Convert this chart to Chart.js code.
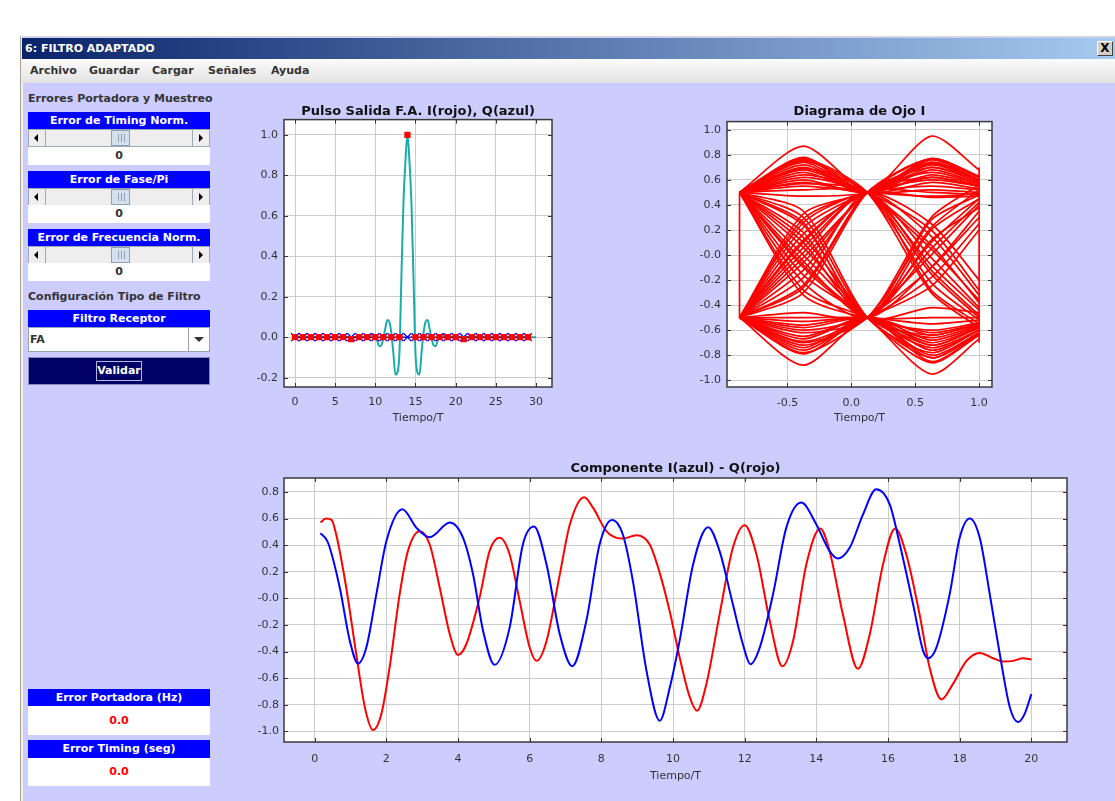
<!DOCTYPE html>
<html>
<head>
<meta charset="utf-8">
<script src="https://cdn.jsdelivr.net/npm/chart.js@4.4.1/dist/chart.umd.min.js"></script>
<style>
body{margin:0;background:#fff;width:1115px;height:801px;overflow:hidden;position:relative;font-family:"DejaVu Sans",sans-serif}
.a{position:absolute}
#win{left:20px;top:36px;width:1095px;height:765px;background:#ccccff;border-left:1px solid #a8a49c;border-top:1px solid #d8d6d0;box-sizing:border-box}
#edge{left:21px;top:37px;width:2px;height:764px;background:#f0eee8}
#bar{left:22px;top:38px;width:1093px;height:21px;background:linear-gradient(to right,#0a246a,#a6caf0)}
#bar span{position:absolute;left:3px;top:0;font:bold 11px "DejaVu Sans";line-height:21px;color:#fff}
#close{left:1097px;top:41px;width:14px;height:13px;background:#d4d0c8;border:1px solid;border-color:#fff #404040 #404040 #fff;font:bold 12px "DejaVu Sans";text-align:center;line-height:13px;color:#000}
#menu{left:22px;top:59px;width:1093px;height:24px;background:linear-gradient(#fbfbfb,#e3e3e3)}
.m{position:absolute;top:0;font:bold 11px "DejaVu Sans";line-height:24px;color:#333}
.lbl{left:28px;font:bold 11px "DejaVu Sans";color:#333;line-height:16px}
.hdr{left:28px;width:182px;height:17px;background:#0000ff;color:#fff;font:bold 11px "DejaVu Sans";text-align:center;line-height:17px}
.sb{left:28px;width:182px;height:18px;background:#eeeeee;border:1px solid #a0a8b2;box-sizing:border-box}
.sb .bl,.sb .br{position:absolute;top:0;width:16px;height:16px;background:#eeeeee}
.sb .bl{left:0;border-right:1px solid #a0a8b2}
.sb .br{right:0;border-left:1px solid #a0a8b2}
.sb .bl i,.sb .br i{position:absolute;top:4px;width:0;height:0;border-top:4px solid transparent;border-bottom:4px solid transparent}
.sb .bl i{left:5px;border-right:4px solid #000}
.sb .br i{left:6px;border-left:4px solid #000}
.sb .th{position:absolute;left:82px;top:0;width:17px;height:14px;background:#d6e0ec;border:1px solid #8ea0b8}
.sb .th b{position:absolute;left:6px;top:3px;width:5px;height:8px;border-left:1px solid #8ea0b8;border-right:1px solid #8ea0b8}
.sb .th b:after{content:"";position:absolute;left:2px;top:0;width:1px;height:8px;background:#8ea0b8}
.v{left:28px;width:182px;background:#fff;text-align:center;font:bold 11px "DejaVu Sans";color:#333}
#combo{left:28px;top:327px;width:182px;height:25px;background:#fff;border:1px solid #9aa3ad;box-sizing:border-box}
#combo span{position:absolute;left:1px;top:0;font:bold 11px "DejaVu Sans";line-height:23px;color:#333}
#combo .btn{position:absolute;right:0;top:0;width:20px;height:23px;border-left:1px solid #9aa3ad;background:#fff}
#combo .btn i{position:absolute;left:5px;top:9px;width:0;height:0;border-left:5px solid transparent;border-right:5px solid transparent;border-top:5px solid #333}
#validar{left:28px;top:357px;width:182px;height:28px;background:#000066;border:1px solid #8a8ab8;box-sizing:border-box}
#validar span{position:absolute;left:67px;top:3px;width:44px;height:18px;border:1px solid #b8b8d8;font:bold 11px "DejaVu Sans";color:#fff;text-align:center;line-height:18px}
.red{color:#ff0000}
canvas{position:absolute}
</style>
</head>
<body>
<div id="win" class="a"></div>
<div id="edge" class="a"></div>
<div id="bar" class="a"><span>6: FILTRO ADAPTADO</span></div>
<div id="close" class="a">X</div>
<div id="menu" class="a">
  <span class="m" style="left:8px">Archivo</span>
  <span class="m" style="left:67px">Guardar</span>
  <span class="m" style="left:130px">Cargar</span>
  <span class="m" style="left:186px">Señales</span>
  <span class="m" style="left:249px">Ayuda</span>
</div>

<div class="a lbl" style="top:91px">Errores Portadora y Muestreo</div>
<div class="a hdr" style="top:112px">Error de Timing Norm.</div>
<div class="a sb" style="top:129px"><div class="bl"><i></i></div><div class="th"><b></b></div><div class="br"><i></i></div></div>
<div class="a v" style="top:147px;height:18px;line-height:18px">0</div>
<div class="a hdr" style="top:171px">Error de Fase/Pi</div>
<div class="a sb" style="top:188px"><div class="bl"><i></i></div><div class="th"><b></b></div><div class="br"><i></i></div></div>
<div class="a v" style="top:205px;height:18px;line-height:18px">0</div>
<div class="a hdr" style="top:229px">Error de Frecuencia Norm.</div>
<div class="a sb" style="top:246px"><div class="bl"><i></i></div><div class="th"><b></b></div><div class="br"><i></i></div></div>
<div class="a v" style="top:263px;height:18px;line-height:18px">0</div>
<div class="a lbl" style="top:289px">Configuración Tipo de Filtro</div>
<div class="a hdr" style="top:310px">Filtro Receptor</div>
<div id="combo" class="a"><span>FA</span><div class="btn"><i></i></div></div>
<div id="validar" class="a"><span>Validar</span></div>

<div class="a hdr" style="top:689px">Error Portadora (Hz)</div>
<div class="a v red" style="top:706px;height:29px;line-height:29px">0.0</div>
<div class="a hdr" style="top:740px;height:18px;line-height:18px">Error Timing (seg)</div>
<div class="a v red" style="top:758px;height:28px;line-height:28px">0.0</div>

<canvas id="pulse" width="322" height="330" style="left:240px;top:98px"></canvas>
<canvas id="eye" width="322" height="330" style="left:680px;top:98px"></canvas>
<canvas id="comp" width="837" height="330" style="left:240px;top:455px"></canvas>

<script>
// ---- Pulso salida F.A. ----
const pulseTime = [0, 9, 9.25, 9.5, 9.75, 10, 10.25, 10.5, 10.75, 11, 11.25, 11.5, 11.75, 12, 12.25, 12.5, 12.75, 13, 13.25, 13.5, 13.75,
  14, 14.25, 14.5, 14.75, 15, 15.25, 15.5, 15.75, 16, 16.25, 16.5, 16.75, 17, 17.25, 17.5, 17.75, 18, 18.25, 18.5, 18.75, 19, 30];
const pulseValue = [0, 0, 0, 0.012, 0.015, 0.005, -0.02, -0.045, -0.04, -0.005, 0.045, 0.085, 0.075, 0.02, -0.08, -0.185, -0.175, -0.08, 0.3, 0.66, 0.87,
  1.0, 0.87, 0.66, 0.3, -0.08, -0.175, -0.185, -0.08, 0.02, 0.075, 0.085, 0.045, -0.005, -0.04, -0.045, -0.02, 0.005, 0.015, 0.012, 0, 0, 0];
const sampleTime = [0, 1, 2, 3, 4, 5, 6, 7, 8, 9, 10, 11, 12, 13, 14, 15, 16, 17, 18, 19, 20, 21, 22, 23, 24, 25, 26, 27, 28, 29];
const sampleI = [0, 0, 0, 0, 0, 0, 0, -0.01, 0, 0, 0, 0, 0, 0, 1.0, 0, 0, 0, 0, 0, 0, -0.01, 0, 0, 0, 0, 0, 0, 0, 0];
const sampleQ = [0, 0, 0, 0, 0, 0, 0, 0, 0, 0, 0, 0, 0, 0, 0, 0, 0, 0, 0, 0, 0, 0, 0, 0, 0, 0, 0, 0, 0, 0];
const pulseXTicks = [0, 5, 10, 15, 20, 25, 30];
const pulseXLabels = ["0", "5", "10", "15", "20", "25", "30"];
const pulseYTicks = [-0.2, 0, 0.2, 0.4, 0.6, 0.8, 1.0];
const pulseYLabels = ["-0.2", "0.0", "0.2", "0.4", "0.6", "0.8", "1.0"];

// ---- Diagrama de ojo I: [y(-0.875), y(-0.375), y(0.125), y(0.625), y(1.0)] ----
const eyeTime = [-0.875, -0.375, 0.125, 0.625, 1.0];
const eyeTraces = [
  [0.5, 0.87, 0.5, 0.58, 0.53],
  [0.5, 0.77, 0.5, 0.95, 0.68],
  [0.5, 0.75, 0.5, 0.05, -0.36],
  [0.5, 0.72, 0.5, 0.76, 0.6],
  [0.5, 0.69, 0.5, -0.22, -0.52],
  [0.5, 0.66, 0.5, 0.7, 0.58],
  [0.5, 0.62, 0.5, 0.2, -0.28],
  [0.5, 0.58, 0.5, 0.62, 0.55],
  [0.5, 0.55, 0.5, 0.47, 0.49],
  [0.5, 0.47, 0.5, 0.74, 0.6],
  [0.5, 0.52, 0.5, -0.08, -0.44],
  [0.5, 0.78, 0.5, 0.64, 0.56],
  [0.5, 0.76, 0.5, -0.3, -0.58],
  [0.5, 0.7, 0.5, 0.73, 0.59],
  [0.5, 0.64, 0.5, 0.08, -0.38],
  [0.5, 0.6, 0.5, 0.77, 0.62],
  [0.5, 0.68, 0.5, 0.52, 0.5],
  [0.5, 0.57, 0.5, -0.15, -0.5],
  [0.5, 0.74, 0.5, 0.68, 0.57],
  [0.5, 0.3, -0.5, -0.64, -0.55],
  [0.5, 0.18, -0.5, 0.12, 0.38],
  [0.5, 0.06, -0.5, -0.82, -0.62],
  [0.5, -0.05, -0.5, -0.1, 0.3],
  [0.5, -0.16, -0.5, -0.95, -0.67],
  [0.5, -0.28, -0.5, -0.72, -0.58],
  [0.5, 0.1, -0.5, 0.28, 0.48],
  [0.5, -0.1, -0.5, -0.6, -0.54],
  [0.5, 0.24, -0.5, -0.42, -0.46],
  [0.5, 0.35, -0.5, -0.78, -0.6],
  [0.5, 0.0, -0.5, -0.66, -0.56],
  [0.5, -0.22, -0.5, 0.05, 0.42],
  [0.5, 0.14, -0.5, -0.86, -0.64],
  [0.5, -0.32, -0.5, -0.5, -0.5],
  [0.5, 0.26, -0.5, 0.2, 0.45],
  [0.5, -0.08, -0.5, -0.74, -0.6],
  [-0.5, -0.88, -0.5, -0.68, -0.57],
  [-0.5, -0.78, -0.5, 0.0, 0.4],
  [-0.5, -0.74, -0.5, -0.85, -0.63],
  [-0.5, -0.7, -0.5, 0.22, 0.52],
  [-0.5, -0.65, -0.5, -0.76, -0.6],
  [-0.5, -0.6, -0.5, -0.18, 0.25],
  [-0.5, -0.56, -0.5, -0.8, -0.62],
  [-0.5, -0.5, -0.5, -0.55, -0.52],
  [-0.5, -0.46, -0.5, 0.1, 0.45],
  [-0.5, -0.76, -0.5, -0.64, -0.55],
  [-0.5, -0.79, -0.5, -0.72, -0.58],
  [-0.5, -0.72, -0.5, -0.1, 0.35],
  [-0.5, -0.67, -0.5, -0.82, -0.63],
  [-0.5, -0.62, -0.5, 0.3, 0.56],
  [-0.5, -0.58, -0.5, -0.7, -0.58],
  [-0.5, -0.53, -0.5, -0.62, -0.55],
  [-0.5, -0.69, -0.5, -0.25, 0.2],
  [-0.5, -0.3, 0.5, 0.77, 0.62],
  [-0.5, -0.18, 0.5, -0.28, -0.55],
  [-0.5, -0.06, 0.5, 0.66, 0.57],
  [-0.5, 0.06, 0.5, 0.15, -0.32],
  [-0.5, 0.17, 0.5, 0.72, 0.6],
  [-0.5, 0.29, 0.5, 0.55, 0.52],
  [-0.5, -0.12, 0.5, 0.5, 0.48],
  [-0.5, 0.1, 0.5, -0.02, -0.42],
  [-0.5, 0.22, 0.5, 0.6, 0.55],
  [-0.5, -0.26, 0.5, 0.7, 0.6],
  [-0.5, 0.02, 0.5, -0.12, -0.48],
  [-0.5, 0.33, 0.5, 0.74, 0.6],
  [-0.5, -0.24, 0.5, 0.62, 0.55],
  [-0.5, 0.12, 0.5, 0.25, -0.2],
  [-0.5, -0.02, 0.5, 0.77, 0.63],
  [-0.5, 0.26, 0.5, 0.46, 0.47]
];
const eyeWrapLeft = [0.5, -0.5];
const eyeWrapRight = [0.7, -0.7];
const eyeXTicks = [-0.5, 0, 0.5, 1.0];
const eyeXLabels = ["-0.5", "0.0", "0.5", "1.0"];
const eyeYTicks = [-1.0, -0.8, -0.6, -0.4, -0.2, 0, 0.2, 0.4, 0.6, 0.8, 1.0];
const eyeYLabels = ["-1.0", "-0.8", "-0.6", "-0.4", "-0.2", "-0.0", "0.2", "0.4", "0.6", "0.8", "1.0"];

// ---- Componente I(azul) - Q(rojo) ----
const compTimeI = [0.16, 0.37, 0.7, 0.98, 1.21, 1.44, 1.72, 2.0, 2.45, 2.84, 3.21, 3.77, 4.14, 4.42, 4.7, 5.02, 5.44, 5.81, 6.12, 6.47,
  6.84, 7.19, 7.58, 7.95, 8.3, 8.6, 8.88, 9.26, 9.63, 9.91, 10.19, 10.56, 10.98, 11.3, 11.67, 11.95, 12.16, 12.42, 12.79, 13.16,
  13.58, 14.0, 14.37, 14.6, 14.93, 15.3, 15.67, 16.05, 16.33, 16.7, 16.98, 17.12, 17.35, 17.72, 18.0, 18.28, 18.56, 18.84, 19.12, 19.4,
  19.63, 19.81, 20.0];
const compI = [0.49, 0.42, 0.08, -0.32, -0.49, -0.37, 0.03, 0.43, 0.67, 0.53, 0.46, 0.57, 0.455, 0.18, -0.245, -0.5, -0.22, 0.405, 0.54, 0.255,
  -0.27, -0.51, -0.17, 0.405, 0.59, 0.48, 0.13, -0.545, -0.92, -0.67, -0.31, 0.255, 0.535, 0.355, -0.045, -0.345, -0.495, -0.37, 0.03, 0.53,
  0.72, 0.555, 0.355, 0.3, 0.38, 0.63, 0.82, 0.705, 0.405, -0.045, -0.395, -0.45, -0.37, 0.03, 0.455, 0.6, 0.455, 0.03, -0.42, -0.82,
  -0.93, -0.87, -0.72];
const compTimeQ = [0.16, 0.31, 0.47, 0.6, 0.88, 1.16, 1.4, 1.63, 1.86, 2.09, 2.37, 2.6, 2.93, 3.21, 3.49, 3.77, 4.0, 4.23, 4.6, 4.88,
  5.16, 5.44, 5.72, 6.0, 6.19, 6.47, 6.84, 7.12, 7.52, 7.77, 8.14, 8.42, 8.6, 8.98, 9.35, 9.63, 9.91, 10.19, 10.47, 10.67,
  10.93, 11.3, 11.67, 12.0, 12.33, 12.7, 13.05, 13.35, 13.72, 14.11, 14.37, 14.74, 15.16, 15.49, 15.86, 16.2, 16.51, 16.88, 17.16, 17.49,
  17.81, 18.19, 18.56, 18.93, 19.21, 19.49, 19.77, 20.0];
const compQ = [0.57, 0.6, 0.59, 0.48, 0.08, -0.42, -0.82, -0.99, -0.87, -0.52, 0.03, 0.355, 0.505, 0.405, 0.08, -0.27, -0.425, -0.345, 0.005, 0.355,
  0.455, 0.33, -0.02, -0.37, -0.47, -0.32, 0.18, 0.555, 0.76, 0.68, 0.505, 0.455, 0.45, 0.475, 0.405, 0.19, -0.1, -0.45, -0.745, -0.845,
  -0.645, -0.12, 0.38, 0.55, 0.33, -0.17, -0.51, -0.32, 0.255, 0.525, 0.355, -0.12, -0.53, -0.27, 0.255, 0.525, 0.33, -0.12, -0.52, -0.76,
  -0.645, -0.47, -0.41, -0.45, -0.475, -0.47, -0.45, -0.46];
const compXTicks = [0, 2, 4, 6, 8, 10, 12, 14, 16, 18, 20];
const compXLabels = ["0", "2", "4", "6", "8", "10", "12", "14", "16", "18", "20"];
const compYTicks = [-1.0, -0.8, -0.6, -0.4, -0.2, 0, 0.2, 0.4, 0.6, 0.8];
const compYLabels = ["-1.0", "-0.8", "-0.6", "-0.4", "-0.2", "-0.0", "0.2", "0.4", "0.6", "0.8"];

Chart.defaults.font.family = '"DejaVu Sans", sans-serif';
Chart.defaults.font.size = 11;
Chart.defaults.color = "#333";
Chart.defaults.animation = false;

function pts(xs, ys) {
  return ys.map((y, i) => ({x: xs[i], y: y}));
}

// fondo blanco y marco con marcas de tick hacia dentro
const frame = {
  id: "frame",
  beforeDraw(chart) {
    const {ctx, chartArea: a} = chart;
    ctx.save();
    ctx.fillStyle = "#ffffff";
    ctx.fillRect(a.left, a.top, a.right - a.left, a.bottom - a.top);
    ctx.restore();
  },
  afterDatasetsDraw(chart) {
    const {ctx, chartArea: a, scales} = chart;
    ctx.save();
    ctx.strokeStyle = "#333";
    ctx.lineWidth = 1;
    ctx.beginPath();
    scales.x.ticks.forEach(t => {
      const px = Math.round(scales.x.getPixelForValue(t.value)) + 0.5;
      ctx.moveTo(px, a.top); ctx.lineTo(px, a.top + 4);
      ctx.moveTo(px, a.bottom); ctx.lineTo(px, a.bottom - 4);
    });
    scales.y.ticks.forEach(t => {
      const py = Math.round(scales.y.getPixelForValue(t.value)) + 0.5;
      ctx.moveTo(a.left, py); ctx.lineTo(a.left + 4, py);
      ctx.moveTo(a.right, py); ctx.lineTo(a.right - 4, py);
    });
    ctx.stroke();
    ctx.lineWidth = 1.5;
    ctx.strokeStyle = "#3a3a3a";
    ctx.strokeRect(a.left, a.top, a.right - a.left, a.bottom - a.top);
    ctx.restore();
  }
};

function makeScales(o) {
  return {
    x: {
      type: "linear", min: o.xMin, max: o.xMax,
      afterBuildTicks: s => { s.ticks = o.xTicks.map(v => ({value: v})); },
      afterFit: s => { s.height = o.xH; },
      ticks: {autoSkip: false, maxRotation: 0, padding: o.xPad, callback: (v, i) => o.xLabels[i]},
      grid: {color: "#cccccc", drawTicks: false},
      border: {display: false},
      title: {display: true, text: "Tiempo/T", color: "#333", font: {size: 11}, padding: {top: 0, bottom: o.tPad}}
    },
    y: {
      type: "linear", min: o.yMin, max: o.yMax,
      afterBuildTicks: s => { s.ticks = o.yTicks.map(v => ({value: v})); },
      afterFit: s => { s.width = o.yW; },
      ticks: {autoSkip: false, padding: o.yPad, callback: (v, i) => o.yLabels[i]},
      grid: {color: "#cccccc", drawTicks: false},
      border: {display: false}
    }
  };
}

function makeTitle(text, top, bottom) {
  return {display: true, text: text, fullSize: false, color: "#111",
    font: {size: 13, weight: "bold"}, padding: {top: top, bottom: bottom}};
}

new Chart(document.getElementById("pulse"), {
  type: "line",
  data: {
    datasets: [
      {data: pts(sampleTime, sampleI), showLine: false, pointStyle: "rect", pointRadius: 4.4,
       pointBackgroundColor: "#ff0000", pointBorderColor: "#ff0000", pointBorderWidth: 0},
      {data: pts(sampleTime, sampleQ), borderColor: "#000060", borderWidth: 1.2, pointStyle: "crossRot", pointRadius: 5.5,
       pointBorderColor: "#0000ff", pointBorderWidth: 1.3},
      {data: pts(pulseTime, pulseValue), borderColor: "#1aacac", borderWidth: 2, pointRadius: 0,
       cubicInterpolationMode: "monotone"}
    ]
  },
  options: {
    responsive: false,
    layout: {padding: {left: 0, right: 10, top: 0, bottom: 0}},
    plugins: {legend: {display: false}, tooltip: {enabled: false},
      title: makeTitle("Pulso Salida F.A. I(rojo), Q(azul)", 6, 0)},
    scales: makeScales({xMin: -1.37, xMax: 32.0, xTicks: pulseXTicks, xLabels: pulseXLabels, xH: 41, xPad: 9, tPad: 3,
      yMin: -0.246, yMax: 1.075, yTicks: pulseYTicks, yLabels: pulseYLabels, yW: 44, yPad: 6})
  },
  plugins: [frame]
});

const eyeSets = eyeTraces.map(tr => ({data: pts(eyeTime, tr), borderColor: "#ff0000", borderWidth: 1.7,
  pointRadius: 0, tension: 0.25}));
eyeSets.push({data: pts([eyeTime[0], eyeTime[0]], eyeWrapLeft), borderColor: "#ff0000", borderWidth: 1.7, pointRadius: 0});
eyeSets.push({data: pts([eyeTime[4], eyeTime[4]], eyeWrapRight), borderColor: "#ff0000", borderWidth: 1.7, pointRadius: 0});

new Chart(document.getElementById("eye"), {
  type: "line",
  data: {datasets: eyeSets},
  options: {
    responsive: false,
    layout: {padding: {left: 0, right: 10, top: 0, bottom: 0}},
    plugins: {legend: {display: false}, tooltip: {enabled: false},
      title: makeTitle("Diagrama de Ojo I", 6, 2)},
    scales: makeScales({xMin: -0.973, xMax: 1.101, xTicks: eyeXTicks, xLabels: eyeXLabels, xH: 41, xPad: 10, tPad: 3,
      yMin: -1.054, yMax: 1.066, yTicks: eyeYTicks, yLabels: eyeYLabels, yW: 47, yPad: 6})
  },
  plugins: [frame]
});

new Chart(document.getElementById("comp"), {
  type: "line",
  data: {
    datasets: [
      {data: pts(compTimeI, compI), borderColor: "#0000ff", borderWidth: 2, pointRadius: 0, cubicInterpolationMode: "monotone"},
      {data: pts(compTimeQ, compQ), borderColor: "#ff0000", borderWidth: 2, pointRadius: 0, cubicInterpolationMode: "monotone"}
    ]
  },
  options: {
    responsive: false,
    layout: {padding: {left: 0, right: 10, top: 0, bottom: 0}},
    plugins: {legend: {display: false}, tooltip: {enabled: false},
      title: makeTitle("Componente I(azul) - Q(rojo)", 6, 1.4)},
    scales: makeScales({xMin: -0.857, xMax: 20.995, xTicks: compXTicks, xLabels: compXLabels, xH: 43, xPad: 11, tPad: 2,
      yMin: -1.08, yMax: 0.905, yTicks: compYTicks, yLabels: compYLabels, yW: 44, yPad: 5})
  },
  plugins: [frame]
});
</script>
</body>
</html>
